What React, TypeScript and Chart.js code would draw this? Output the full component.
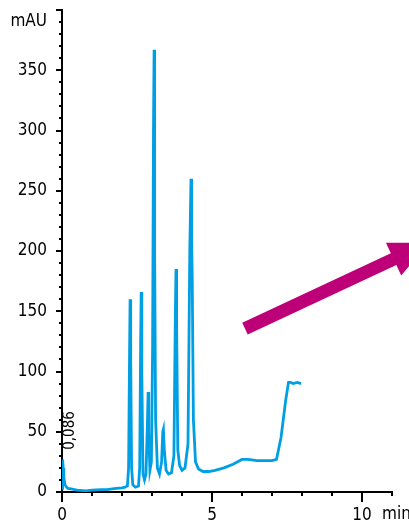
import React, { useEffect, useRef } from "react";
import { Chart, registerables } from "chart.js";

Chart.register(...registerables);

// Chromatogram trace: retention time (min) and absorbance (mAU)
const TIMES = [
  0, 0.02, 0.04, 0.06, 0.1, 0.15, 0.2, 0.3, 0.5, 0.8, 1.0, 1.3, 1.5, 1.8, 2.0, 2.1,
  2.18, 2.22, 2.25, 2.27, 2.29, 2.32, 2.36, 2.45, 2.55, 2.59, 2.62, 2.64, 2.66, 2.7,
  2.75, 2.8, 2.85, 2.87, 2.89, 2.93, 2.98, 3.02, 3.05, 3.07, 3.085, 3.09, 3.12, 3.18,
  3.25, 3.32, 3.36, 3.38, 3.41, 3.47, 3.55, 3.65, 3.73, 3.78, 3.8, 3.82, 3.86, 3.92,
  4.0, 4.1, 4.2, 4.26, 4.3, 4.32, 4.34, 4.38, 4.45, 4.55, 4.7, 4.9, 5.1, 5.4, 5.7,
  6.0, 6.2, 6.5, 6.8, 7.0, 7.15, 7.3, 7.45, 7.55, 7.62, 7.7, 7.85, 7.97,
];
const SIGNAL = [
  3, 27, 20, 12, 6, 4, 3, 2.5, 1.5, 1, 1.5, 2, 2, 3, 3.5, 4,
  5, 20, 110, 160, 110, 20, 6, 4, 5, 20, 120, 166, 100, 15,
  10, 15, 60, 83, 50, 18, 25, 120, 300, 367, 225, 200, 60, 20,
  15, 25, 50, 52, 35, 18, 15, 16, 30, 150, 185, 140, 35, 22,
  18, 20, 40, 200, 260, 210, 180, 60, 25, 19, 17, 17, 18, 20, 23,
  27, 27, 26, 26, 26, 27, 45, 75, 91, 91, 90, 91, 90,
];

const Y_TICK_LABELS = [0, 50, 100, 150, 200, 250, 300, 350];
const X_TICK_LABELS = [0, 5, 10];
const Y_UNIT = "mAU";
const X_UNIT = "min";
const PEAK_LABEL = "0,086";
const PEAK_LABEL_POS = [0.27, 35];
const ARROW_FROM = [6.1, 135.5];
const ARROW_TO = [12.23, 207];

const FONT = '"Liberation Sans Narrow", "DejaVu Sans Condensed", "Liberation Sans", sans-serif';
const LINE_COLOR = "#009FE3";
const ARROW_COLOR = "#BE0078";

const extras = {
  id: "extras",
  afterDraw(chart: any) {
    const ctx = chart.ctx;
    const xs = chart.scales.x;
    const ys = chart.scales.y;
    const left = chart.chartArea.left;
    const bottom = chart.chartArea.bottom;
    ctx.save();
    ctx.strokeStyle = "#000";
    ctx.lineWidth = 2;
    // y ticks
    for (let v = 0; v <= 400; v += 10) {
      const y = Math.round(ys.getPixelForValue(v));
      const len = v % 50 === 0 ? 6 : 3;
      ctx.beginPath();
      ctx.moveTo(left, y);
      ctx.lineTo(left - len, y);
      ctx.stroke();
    }
    // x ticks
    for (let t = 0; t <= 11; t += 1) {
      const x = Math.round(xs.getPixelForValue(t));
      const len = t % 5 === 0 ? 10 : 4;
      ctx.beginPath();
      ctx.moveTo(x, bottom);
      ctx.lineTo(x, bottom + len);
      ctx.stroke();
    }
    // x unit
    ctx.fillStyle = "#000";
    ctx.font = `17px ${FONT}`;
    ctx.textAlign = "left";
    ctx.textBaseline = "middle";
    ctx.fillText(X_UNIT, xs.getPixelForValue(11) - 10, 515);
    // peak label (rotated)
    ctx.save();
    ctx.translate(xs.getPixelForValue(PEAK_LABEL_POS[0]), ys.getPixelForValue(PEAK_LABEL_POS[1]));
    ctx.rotate(-Math.PI / 2);
    ctx.font = `15px ${FONT}`;
    ctx.textAlign = "left";
    ctx.textBaseline = "middle";
    ctx.fillText(PEAK_LABEL, 0, 0);
    ctx.restore();
    // arrow
    const x0 = xs.getPixelForValue(ARROW_FROM[0]);
    const y0 = ys.getPixelForValue(ARROW_FROM[1]);
    const x1 = xs.getPixelForValue(ARROW_TO[0]);
    const y1 = ys.getPixelForValue(ARROW_TO[1]);
    const L = Math.hypot(x1 - x0, y1 - y0);
    const ux = (x1 - x0) / L;
    const uy = (y1 - y0) / L;
    const nx = -uy;
    const ny = ux;
    const sh = 6.5;
    const hh = 18;
    const hl = 39;
    const bx = x1 - ux * hl;
    const by = y1 - uy * hl;
    ctx.fillStyle = ARROW_COLOR;
    ctx.beginPath();
    ctx.moveTo(x0 + nx * sh, y0 + ny * sh);
    ctx.lineTo(bx + nx * sh, by + ny * sh);
    ctx.lineTo(bx + nx * hh, by + ny * hh);
    ctx.lineTo(x1, y1);
    ctx.lineTo(bx - nx * hh, by - ny * hh);
    ctx.lineTo(bx - nx * sh, by - ny * sh);
    ctx.lineTo(x0 - nx * sh, y0 - ny * sh);
    ctx.closePath();
    ctx.fill();
    ctx.restore();
  },
};

export default function App() {
  const ref = useRef<HTMLCanvasElement | null>(null);
  useEffect(() => {
    if (!ref.current) return;
    const chart = new Chart(ref.current, {
      type: "line",
      data: {
        datasets: [
          {
            data: TIMES.map((t, i) => ({ x: t, y: SIGNAL[i] })),
            borderColor: LINE_COLOR,
            borderWidth: 2.8,
            pointRadius: 0,
            tension: 0,
            fill: false,
          },
        ],
      },
      options: {
        animation: false,
        responsive: false,
        maintainAspectRatio: false,
        layout: { padding: { top: 10, right: 17, left: 0, bottom: 0 } },
        plugins: { legend: { display: false }, tooltip: { enabled: false } },
        scales: {
          x: {
            type: "linear",
            min: 0,
            max: 11,
            grid: { display: false, drawTicks: false },
            border: { display: true, color: "#000", width: 2 },
            afterFit: (s: any) => {
              s.height = 32;
              s.paddingLeft = 0;
              s.paddingRight = 0;
            },
            ticks: {
              stepSize: 1,
              autoSkip: false,
              maxRotation: 0,
              padding: 13,
              color: "#000",
              font: { family: FONT, size: 17 },
              callback: (v: any) => (X_TICK_LABELS.includes(Number(v)) ? String(v) : ""),
            },
          },
          y: {
            min: 0,
            max: 400,
            grid: { display: false, drawTicks: false },
            border: { display: true, color: "#000", width: 2 },
            afterFit: (s: any) => {
              s.width = 62;
              s.paddingTop = 0;
              s.paddingBottom = 0;
            },
            ticks: {
              stepSize: 10,
              autoSkip: false,
              padding: 15,
              color: "#000",
              font: { family: FONT, size: 17 },
              callback: (v: any) => {
                const n = Number(v);
                if (n === 390) return Y_UNIT;
                return Y_TICK_LABELS.includes(n) ? String(n) : "";
              },
            },
          },
        },
      },
      plugins: [extras],
    });
    return () => chart.destroy();
  }, []);
  return (
    <div style={{ position: "fixed", left: 0, top: 0, width: 409, height: 524, background: "#fff" }}>
      <canvas ref={ref} width={409} height={524} />
    </div>
  );
}
